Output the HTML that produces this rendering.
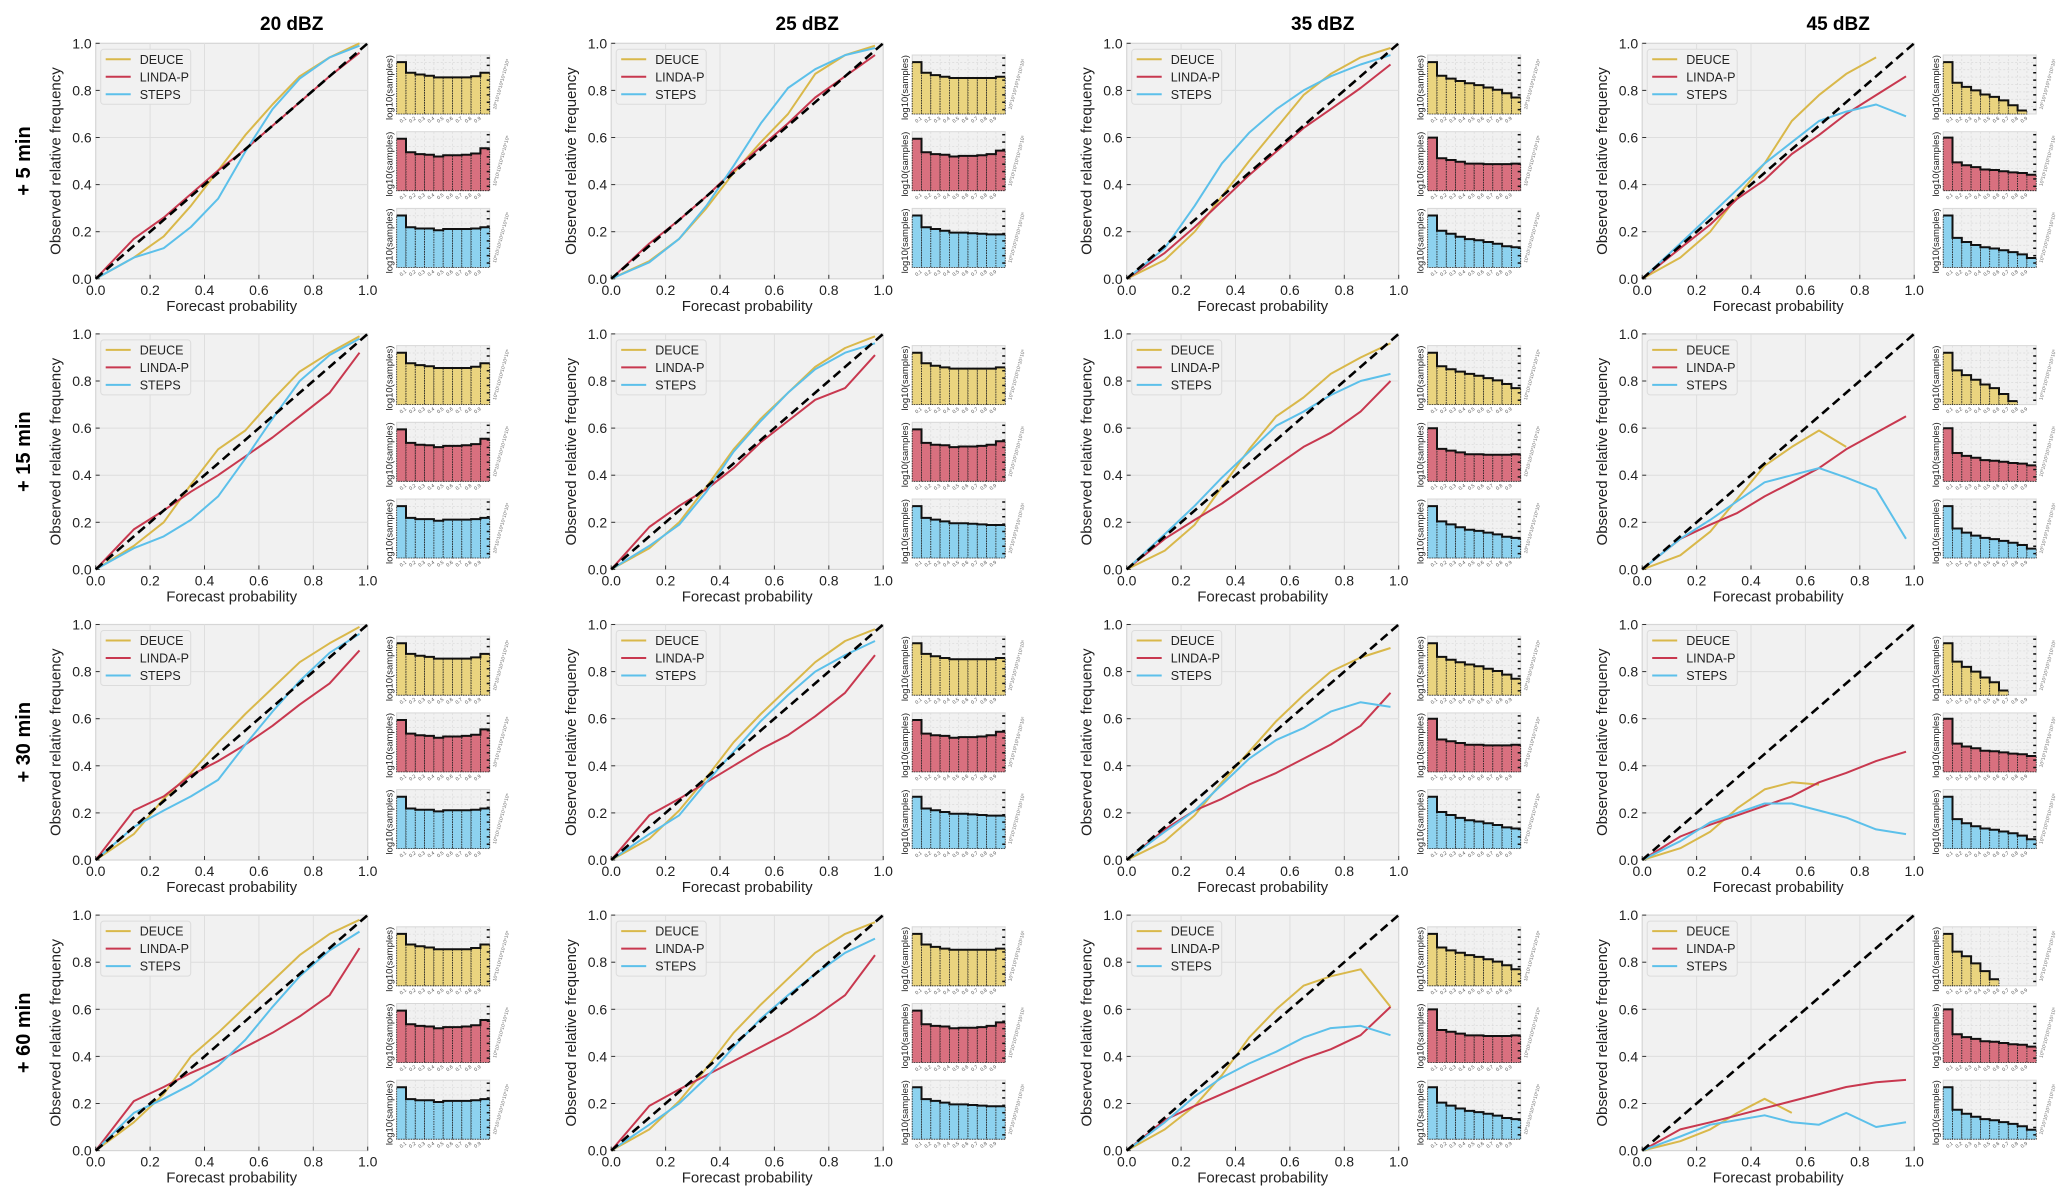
<!DOCTYPE html>
<html><head><meta charset="utf-8">
<style>
html,body{margin:0;padding:0;background:#fff;}
svg{display:block;font-family:"Liberation Sans","DejaVu Sans",sans-serif;}
</style></head>
<body>
<svg id="fig" width="2067" height="1204" viewBox="0 0 2067 1204" xmlns="http://www.w3.org/2000/svg"></svg>
<script>
// ---- data ----
const rowLabels = ['+ 5 min','+ 15 min','+ 30 min','+ 60 min'];
const colLabels = ['20 dBZ','25 dBZ','35 dBZ','45 dBZ'];
const models = ['DEUCE','LINDA-P','STEPS'];
const binX = [0,0.14,0.25,0.35,0.45,0.55,0.65,0.75,0.86,0.97];
const yTicks = ['0.0','0.2','0.4','0.6','0.8','1.0'];
const xTicks = ['0.0','0.2','0.4','0.6','0.8','1.0'];
const histTicks = ['0.1','0.2','0.3','0.4','0.5','0.6','0.7','0.8','0.9'];

// observed frequency per row (lead time), per column (threshold)
const deuce5  = [[0,0.09,0.18,0.31,0.46,0.61,0.74,0.86,0.94,1.0],[0,0.075,0.17,0.30,0.45,0.58,0.70,0.87,0.95,0.99],[0,0.08,0.20,0.35,0.50,0.64,0.78,0.87,0.94,0.98],[0,0.09,0.20,0.35,0.49,0.67,0.78,0.87,0.94,null]];
const linda5  = [[0,0.17,0.26,0.36,0.46,0.55,0.65,0.75,0.86,0.96],[0,0.15,0.25,0.35,0.46,0.56,0.66,0.77,0.86,0.95],[0,0.11,0.22,0.33,0.44,0.54,0.64,0.72,0.81,0.91],[0,0.13,0.23,0.34,0.42,0.53,0.61,0.70,0.78,0.86]];
const steps5  = [[0,0.09,0.13,0.22,0.34,0.54,0.72,0.85,0.94,0.99],[0,0.07,0.17,0.31,0.48,0.66,0.81,0.89,0.95,0.98],[0,0.13,0.31,0.49,0.62,0.72,0.80,0.86,0.91,0.95],[0,0.15,0.27,0.38,0.49,0.58,0.67,0.71,0.74,0.69]];
const deuce15 = [[0,0.10,0.20,0.36,0.51,0.59,0.72,0.84,0.92,0.99],[0,0.09,0.20,0.35,0.51,0.64,0.75,0.86,0.94,0.99],[0,0.08,0.19,0.35,0.51,0.65,0.73,0.83,0.90,0.96],[0,0.06,0.16,0.30,0.44,0.52,0.59,0.52,null,null]];
const linda15 = [[0,0.17,0.25,0.33,0.40,0.48,0.56,0.65,0.75,0.92],[0,0.18,0.27,0.34,0.43,0.54,0.63,0.72,0.77,0.91],[0,0.13,0.21,0.28,0.36,0.44,0.52,0.58,0.67,0.80],[0,0.13,0.19,0.24,0.31,0.37,0.43,0.51,0.58,0.65]];
const steps15 = [[0,0.09,0.14,0.21,0.31,0.47,0.64,0.80,0.91,0.98],[0,0.10,0.19,0.33,0.50,0.63,0.75,0.85,0.92,0.96],[0,0.15,0.27,0.39,0.50,0.61,0.67,0.74,0.80,0.83],[0,0.13,0.21,0.29,0.37,0.40,0.43,0.39,0.34,0.13]];
const deuce30 = [[0,0.11,0.26,0.37,0.50,0.62,0.73,0.84,0.92,0.99],[0,0.09,0.21,0.35,0.50,0.62,0.73,0.84,0.93,0.98],[0,0.08,0.19,0.33,0.46,0.59,0.70,0.80,0.86,0.90],[0,0.05,0.12,0.22,0.30,0.33,0.32,null,null,null]];
const linda30 = [[0,0.21,0.27,0.36,0.42,0.49,0.57,0.66,0.75,0.89],[0,0.19,0.26,0.33,0.40,0.47,0.53,0.61,0.71,0.87],[0,0.13,0.21,0.26,0.32,0.37,0.43,0.49,0.57,0.71],[0,0.10,0.15,0.19,0.23,0.27,0.33,0.37,0.42,0.46]];
const steps30 = [[0,0.14,0.21,0.27,0.34,0.49,0.63,0.76,0.88,0.96],[0,0.11,0.19,0.33,0.46,0.59,0.70,0.80,0.87,0.93],[0,0.12,0.21,0.32,0.43,0.51,0.56,0.63,0.67,0.65],[0,0.08,0.16,0.20,0.24,0.24,0.21,0.18,0.13,0.11]];
const deuce60 = [[0,0.12,0.24,0.40,0.50,0.61,0.72,0.83,0.92,0.98],[0,0.09,0.21,0.35,0.50,0.62,0.73,0.84,0.92,0.97],[0,0.09,0.19,0.32,0.48,0.60,0.70,0.74,0.77,0.61],[0,0.04,0.09,0.16,0.22,0.16,null,null,null,null]];
const linda60 = [[0,0.21,0.27,0.33,0.38,0.44,0.50,0.57,0.66,0.86],[0,0.19,0.26,0.32,0.38,0.44,0.50,0.57,0.66,0.83],[0,0.13,0.19,0.24,0.29,0.34,0.39,0.43,0.49,0.61],[0,0.09,0.12,0.15,0.18,0.21,0.24,0.27,0.29,0.30]];
const steps60 = [[0,0.16,0.22,0.28,0.36,0.47,0.61,0.74,0.85,0.93],[0,0.11,0.20,0.31,0.44,0.56,0.66,0.75,0.84,0.90],[0,0.12,0.23,0.31,0.37,0.42,0.48,0.52,0.53,0.49],[0,0.06,0.11,0.13,0.15,0.12,0.11,0.16,0.10,0.12]];

// histogram heights (log10 samples, relative to panel height) per column
const histDeuceCol = [[0.88,0.70,0.67,0.65,0.62,0.62,0.62,0.62,0.64,0.70],[0.88,0.70,0.66,0.63,0.61,0.61,0.61,0.61,0.61,0.63],[0.88,0.65,0.60,0.56,0.52,0.49,0.45,0.41,0.35,0.28],null];
const histDeuce45 = [[0.88,0.53,0.46,0.40,0.33,0.29,0.23,0.15,0.06,0],[0.88,0.58,0.50,0.42,0.34,0.28,0.18,0.06,0,0],[0.88,0.57,0.48,0.40,0.30,0.22,0.08,0,0,0],[0.88,0.58,0.50,0.38,0.25,0.11,0,0,0,0]];
const histLindaCol = [[0.88,0.65,0.62,0.61,0.58,0.60,0.60,0.61,0.63,0.72],[0.88,0.65,0.62,0.61,0.58,0.59,0.59,0.60,0.62,0.68],[0.90,0.55,0.52,0.49,0.46,0.46,0.45,0.45,0.45,0.46],[0.90,0.48,0.43,0.40,0.36,0.35,0.33,0.31,0.30,0.27]];
const histStepsCol = [[0.88,0.68,0.66,0.66,0.63,0.65,0.65,0.65,0.66,0.68],[0.88,0.68,0.65,0.62,0.59,0.59,0.58,0.57,0.56,0.56],[0.88,0.62,0.57,0.52,0.48,0.46,0.43,0.40,0.36,0.34],[0.88,0.50,0.43,0.38,0.34,0.32,0.29,0.26,0.22,0.16]];

// ---- layout ----
const NS = 'http://www.w3.org/2000/svg';
const svg = document.getElementById('fig');
const PL0 = 95.7, PT0 = 43.3, DX = 515.5, DY = 290.6, PW = 272, PH = 235.5;
const HX = 301, HW = 93, HH = 59, HY0 = 11.7, HDY = 76.7;
const lineColors = ['#d9b84a','#c8384f','#5cc0ea'];
const fillColors = ['#ead47f','#d9707f','#8dd2ef'];
const seriesByRow = [[deuce5,linda5,steps5],[deuce15,linda15,steps15],[deuce30,linda30,steps30],[deuce60,linda60,steps60]];

function el(tag, attrs, parent){ const e=document.createElementNS(NS,tag); for(const k in attrs) e.setAttribute(k,attrs[k]); (parent||svg).appendChild(e); return e; }
function txt(s, attrs, parent){ const e=el('text',attrs,parent); e.textContent=s; return e; }

rowLabels.forEach((lab,r)=>{
  const cy = PT0 + r*DY + PH/2;
  const t = txt(lab,{x:30,y:cy,'font-size':20,'font-weight':'bold','text-anchor':'middle',transform:`rotate(-90 30 ${cy})`});
  
  
});
colLabels.forEach((lab,c)=>{
  const t = txt(lab,{x:PL0+c*DX+196,y:30,'font-size':19,'font-weight':'bold','text-anchor':'middle'});
  
  
});

for(let r=0;r<4;r++){
  for(let c=0;c<4;c++){
    const L = PL0 + c*DX, T = PT0 + r*DY;
    const sx = v => L + v*PW;
    const sy = v => T + PH - v*PH;
    const g = el('g',{});
    
    
    const bg = el('rect',{x:L,y:T,width:PW,height:PH,fill:'#f1f1f1',stroke:'#d6d6d6','stroke-width':1.2},g);
    
    
    for(let i=1;i<5;i++){
      el('line',{x1:sx(i/5),x2:sx(i/5),y1:T,y2:T+PH,stroke:'#dedede','stroke-width':1},g);
      el('line',{x1:L,x2:L+PW,y1:sy(i/5),y2:sy(i/5),stroke:'#dedede','stroke-width':1},g);
    }
    yTicks.forEach((tk,i)=>{
      const v=parseFloat(tk);
      el('line',{x1:L,x2:L+4,y1:sy(v),y2:sy(v),stroke:'#333','stroke-width':1},g);
      const t=txt(tk,{x:L-4,y:sy(v)+5,'font-size':14,'text-anchor':'end',fill:'#222'},g);
      
      
    });
    xTicks.forEach((tk,i)=>{
      const v=parseFloat(tk);
      el('line',{x1:sx(v),x2:sx(v),y1:T+PH,y2:T+PH-4,stroke:'#333','stroke-width':1},g);
      const t=txt(tk,{x:sx(v),y:T+PH+16,'font-size':14,'text-anchor':'middle',fill:'#222'},g);
      
      
    });
    const yl = txt('Observed relative frequency',{x:L-35,y:T+PH/2,'font-size':15,'text-anchor':'middle',fill:'#222',transform:`rotate(-90 ${L-35} ${T+PH/2})`},g);
    
    
    const xl = txt('Forecast probability',{x:L+PW/2,y:T+PH+32,'font-size':15,'text-anchor':'middle',fill:'#222'},g);
    
    

    const series = seriesByRow[r];
    series.forEach((arr,m)=>{
      const vals = arr[c];
      let d='';
      vals.forEach((v,i)=>{ if(v===null) return; d += (d?'L':'M') + sx(binX[i]).toFixed(1)+','+sy(v).toFixed(1); });
      const p = el('path',{d:d,fill:'none',stroke:lineColors[m],'stroke-width':2,'stroke-linejoin':'round'},g);
      
      
    });
    const diag = el('line',{x1:sx(0),y1:sy(0),x2:sx(1),y2:sy(1),stroke:'#000','stroke-width':2.6,'stroke-dasharray':'9,5'},g);
    
    

    // legend
    const lg = el('g',{},g);
    
    
    el('rect',{x:L+5,y:T+6,width:90,height:55,rx:3,fill:'#f1f1f1',stroke:'#dcdcdc','stroke-width':1},lg);
    models.forEach((mn,m)=>{
      const yy = T+16+m*17.5;
      el('line',{x1:L+10,x2:L+35,y1:yy,y2:yy,stroke:lineColors[m],'stroke-width':2},lg);
      const t=txt(mn,{x:L+44,y:yy+4.5,'font-size':12.5,fill:'#222'},lg);
      
      
    });

    // histograms
    for(let k=0;k<3;k++){
      const hx = L+HX, hy = T+HY0+k*HDY;
      const hg = el('g',{},g);
      
      
      el('rect',{x:hx,y:hy,width:HW,height:HH,fill:'#f1f1f1',stroke:'#d8d8d8','stroke-width':1},hg);
      for(let i=1;i<10;i++) el('line',{x1:hx+i*HW/10,x2:hx+i*HW/10,y1:hy,y2:hy+HH,stroke:'#dadada','stroke-width':0.7,'stroke-dasharray':'2,2'},hg);
      for(let i=1;i<8;i++) el('line',{x1:hx,x2:hx+HW,y1:hy+i*HH/8,y2:hy+i*HH/8,stroke:'#dadada','stroke-width':0.7,'stroke-dasharray':'2,2'},hg);
      let hv;
      if(k===0) hv = c===3 ? histDeuce45[r] : histDeuceCol[c];
      else if(k===1) hv = histLindaCol[c];
      else hv = histStepsCol[c];
      const bw = HW/10;
      const hyv = v => hy + HH - v*HH;
      let step='';
      hv.forEach((v,i)=>{
        if(v<=0){ return; }
        const b = el('rect',{x:hx+i*bw,y:hyv(v),width:bw,height:v*HH,fill:fillColors[k],stroke:'#222','stroke-width':0.8,'stroke-dasharray':'1.5,1'},hg);
        
        
        step += (step?'L':'M')+(hx+i*bw).toFixed(1)+','+hyv(v).toFixed(1)+'L'+(hx+(i+1)*bw).toFixed(1)+','+hyv(v).toFixed(1);
      });
      el('path',{d:step,fill:'none',stroke:'#111','stroke-width':2},hg);
      for(let i=0;i<8;i++) el('line',{x1:hx+HW-3,x2:hx+HW,y1:hy+3+i*HH/8,y2:hy+3+i*HH/8,stroke:'#111','stroke-width':1.5},hg);
      histTicks.forEach((tk,i)=>{
        const tx = hx+(i+1)*bw-2, ty = hy+HH+7;
        txt(tk,{x:tx,y:ty,'font-size':5,fill:'#555','text-anchor':'middle',transform:`rotate(-35 ${tx} ${ty})`},hg);
      });
      const hl = txt('log10(samples)',{x:hx-4,y:hy+HH/2+3,'font-size':9.5,'text-anchor':'middle',fill:'#222',transform:`rotate(-90 ${hx-4} ${hy+HH/2+3})`},hg);
      
      
      const rl = txt('10⁰10¹10²10³10⁴10⁵10⁶',{x:hx+HW+13,y:hy+HH/2,'font-size':5,'text-anchor':'middle',fill:'#777',transform:`rotate(-75 ${hx+HW+13} ${hy+HH/2})`},hg);
      
      
    }
  }
}
</script>
</body></html>
